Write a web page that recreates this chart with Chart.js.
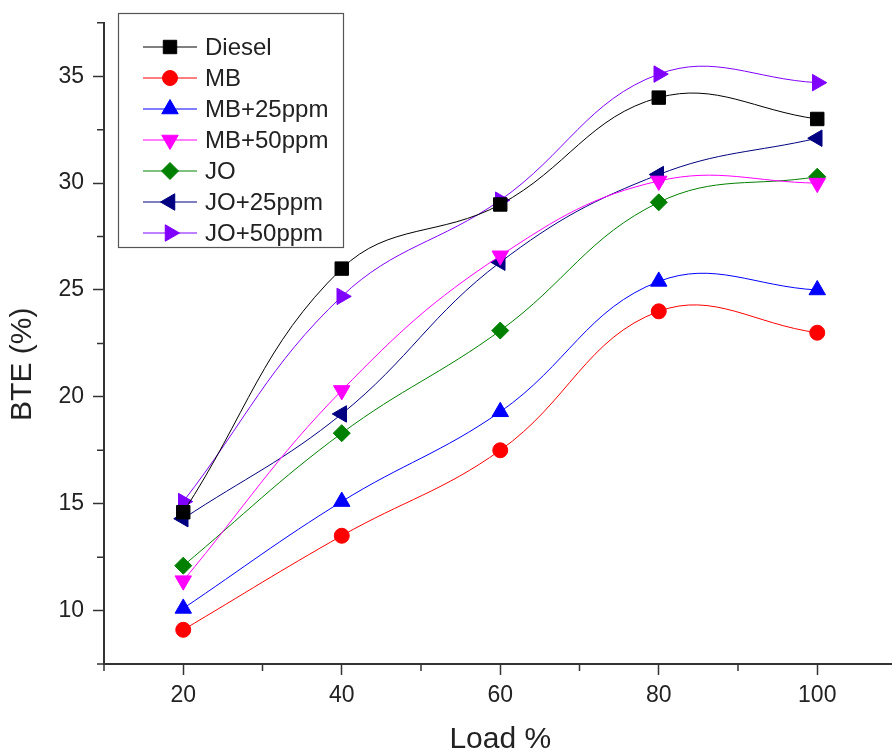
<!DOCTYPE html>
<html>
<head>
<meta charset="utf-8">
<script src="https://cdn.jsdelivr.net/npm/chart.js@4/dist/chart.umd.min.js"></script>
<style>
  html, body { margin: 0; padding: 0; background: #fff; overflow: hidden; }
  #wrap { width: 907px; height: 753px; }
</style>
</head>
<body>
<div id="wrap"><canvas id="chartCanvas" width="907" height="753"></canvas></div>
<script>
// --- data ---
const loads = [20, 40, 60, 80, 100];
const diesel = [14.6, 26.0, 29.0, 34.0, 33.0];
const mb = [9.1, 13.5, 17.5, 24.0, 23.0];
const mb25 = [10.1, 15.1, 19.3, 25.4, 25.0];
const mb50 = [11.4, 20.3, 26.6, 30.1, 30.0];
const jo = [12.1, 18.3, 23.1, 29.1, 30.3];
const jo25 = [14.3, 19.2, 26.3, 30.4, 32.1];
const jo50 = [15.1, 24.7, 29.2, 35.1, 34.7];

const seriesNames = ["Diesel", "MB", "MB+25ppm", "MB+50ppm", "JO", "JO+25ppm", "JO+50ppm"];

// axis ticks
const xMajorTicks = [20, 40, 60, 80, 100];
const xMinorTicks = [10, 30, 50, 70, 90, 110];
const yMajorTicks = [10, 15, 20, 25, 30, 35];
const yMinorTicks = [7.5, 12.5, 17.5, 22.5, 27.5, 32.5, 37.5];

const FONT = "'Liberation Sans', Arial, sans-serif";
const TEXT = "#222";
const AXIS = "#333";

// marker look per series
const styles = [
    { color: "#000000", point: "rect", rot: 0, r: 9.5 },
    { color: "#ff0000", point: "circle", rot: 0, r: 7.5 },
    { color: "#0000ff", point: "triangle", rot: 0, r: 9.5 },
    { color: "#ff00ff", point: "triangle", rot: 180, r: 9.5 },
    { color: "#008000", point: "rectRot", rot: 0, r: 8.5 },
    { color: "#000080", point: "triangle", rot: 270, r: 9.5 },
    { color: "#8000ff", point: "triangle", rot: 90, r: 9.5 }
];

const allSeries = [diesel, mb, mb25, mb50, jo, jo25, jo50];

let datasets = allSeries.map((vals, i) => ({
    label: seriesNames[i],
    data: loads.map((x, k) => ({ x: x, y: vals[k] })),
    borderColor: styles[i].color,
    backgroundColor: styles[i].color,
    borderWidth: 1,
    pointStyle: styles[i].point,
    pointRotation: styles[i].rot,
    pointRadius: styles[i].r,
    pointBorderWidth: 1,
    pointBackgroundColor: styles[i].color,
    pointBorderColor: styles[i].color,
    tension: 0.4,
    fill: false
}));

// short minor ticks drawn on the outside of both axes
const minorTicks = {
    id: "minorTicks",
    afterDraw(chart) {
        const ctx = chart.ctx;
        const xs = chart.scales.x, ys = chart.scales.y;
        const area = chart.chartArea;
        ctx.save();
        ctx.strokeStyle = AXIS;
        ctx.lineWidth = 1.5;
        ctx.beginPath();
        xMinorTicks.forEach(v => {
            let px = xs.getPixelForValue(v);
            ctx.moveTo(px, area.bottom);
            ctx.lineTo(px, area.bottom + 7);
        });
        yMinorTicks.forEach(v => {
            let py = ys.getPixelForValue(v);
            ctx.moveTo(area.left, py);
            ctx.lineTo(area.left - 7, py);
        });
        ctx.stroke();
        ctx.restore();
    }
};

// legend box in the top left, line + marker + text
const boxLegend = {
    id: "boxLegend",
    afterDraw(chart) {
        const ctx = chart.ctx;
        const left = 118, top = 13, right = 343, bottom = 247;
        ctx.save();
        ctx.fillStyle = "#fff";
        ctx.fillRect(left, top, right - left, bottom - top);
        ctx.strokeStyle = "#555";
        ctx.lineWidth = 1.2;
        ctx.strokeRect(left + 0.5, top + 0.5, right - left, bottom - top);

        seriesNames.forEach((name, i) => {
            let y = 47 + i * 31;
            let st = styles[i];
            ctx.strokeStyle = st.color;
            ctx.lineWidth = 1;
            ctx.beginPath();
            ctx.moveTo(143, y);
            ctx.lineTo(197, y);
            ctx.stroke();

            ctx.fillStyle = st.color;
            ctx.strokeStyle = st.color;
            Chart.helpers.drawPoint(ctx, {
                pointStyle: st.point,
                rotation: st.rot,
                radius: st.r,
                borderWidth: 1
            }, 170, y);

            ctx.fillStyle = TEXT;
            ctx.font = "24px " + FONT;
            ctx.textAlign = "left";
            ctx.textBaseline = "middle";
            ctx.fillText(name, 205, y + 1);
        });
        ctx.restore();
    }
};

let ctx = document.getElementById("chartCanvas").getContext("2d");

let chart = new Chart(ctx, {
    type: "line",
    data: { datasets: datasets },
    options: {
        responsive: false,
        animation: false,
        layout: { padding: { top: 18, right: 5, left: 0, bottom: 0 } },
        plugins: {
            legend: { display: false },
            tooltip: { enabled: false }
        },
        scales: {
            x: {
                type: "linear",
                min: 10,
                max: 110,
                afterBuildTicks: s => { s.ticks = xMajorTicks.map(v => ({ value: v })); },
                afterFit: s => { s.height = 89; },
                border: { color: AXIS, width: 2 },
                grid: { drawOnChartArea: false, tickLength: 11, tickColor: AXIS, tickWidth: 1.5 },
                ticks: { color: TEXT, font: { family: FONT, size: 23 }, padding: 7, maxRotation: 0 },
                title: {
                    display: true,
                    text: "Load %",
                    color: TEXT,
                    font: { family: FONT, size: 30, lineHeight: 0.9 },
                    padding: { top: 0, bottom: 0 }
                }
            },
            y: {
                type: "linear",
                min: 7.5,
                max: 37.5,
                afterBuildTicks: s => { s.ticks = yMajorTicks.map(v => ({ value: v })); },
                afterFit: s => { s.width = 104; },
                border: { color: AXIS, width: 2 },
                grid: { drawOnChartArea: false, tickLength: 11, tickColor: AXIS, tickWidth: 1.5 },
                ticks: { color: TEXT, font: { family: FONT, size: 23 }, padding: 9 },
                title: {
                    display: true,
                    // trailing spaces push the label a bit down, like in the original
                    text: "BTE (%)\u00a0\u00a0\u00a0\u00a0\u00a0",
                    color: TEXT,
                    font: { family: FONT, size: 30, lineHeight: 1 },
                    padding: { top: 8, bottom: 0 }
                }
            }
        }
    },
    plugins: [minorTicks, boxLegend]
});
</script>
</body>
</html>
